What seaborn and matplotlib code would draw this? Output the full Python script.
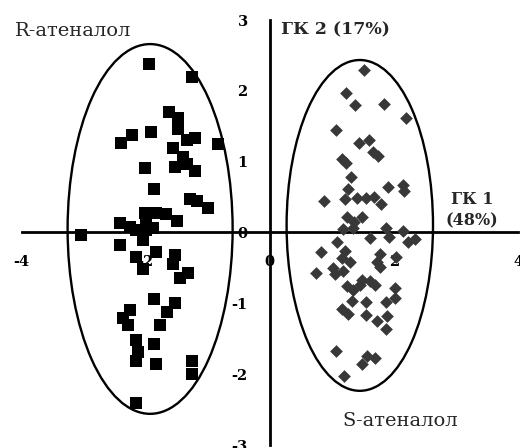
import numpy as np
import pandas as pd
import matplotlib
matplotlib.use("Agg")
import matplotlib.pyplot as plt
from matplotlib.patches import Ellipse
import seaborn as sns

# Principal-component scores, R-enantiomer samples
r_pc1 = [-1.95, -1.25, -1.63, -1.48, -1.48, -1.92, -2.23, -2.40, -1.20, -1.33,
         -0.83, -1.56, -1.40, -1.53, -1.33, -1.21, -2.02, -1.87, -1.28, -1.18,
         -1.00, -2.02, -1.83, -1.67, -1.50, -2.42, -2.26, -1.99, -3.05, -2.42,
         -2.15, -1.99, -2.04, -1.88, -2.15, -1.83, -1.53, -1.56, -2.04, -1.32,
         -1.45, -1.87, -1.53, -1.66, -2.26, -2.37, -2.29, -1.77, -2.16, -1.87,
         -2.13, -2.15, -1.84, -1.25, -1.25, -2.16]
r_pc2 = [2.38, 2.19, 1.70, 1.61, 1.46, 1.42, 1.37, 1.26, 1.34, 1.30,
         1.25, 1.19, 1.06, 0.92, 0.96, 0.87, 0.91, 0.61, 0.47, 0.44,
         0.34, 0.27, 0.27, 0.26, 0.16, 0.13, 0.08, 0.13, -0.04, -0.18,
         0.04, 0.04, -0.11, 0.06, -0.34, -0.28, -0.32, -0.44, -0.51, -0.57,
         -0.64, -0.94, -0.99, -1.12, -1.09, -1.20, -1.30, -1.30, -1.52, -1.58,
         -1.69, -1.81, -1.85, -1.81, -2.00, -2.41]

# Principal-component scores, S-enantiomer samples
s_pc1 = [1.51, 1.23, 1.38, 1.84, 2.20, 1.06, 1.44, 1.60, 1.67, 1.74,
         1.16, 1.23, 1.31, 1.26, 1.91, 2.15, 2.16, 0.88, 1.21, 1.41,
         1.55, 1.68, 1.79, 1.24, 1.48, 1.35, 1.18, 1.88, 2.15, 1.34,
         1.62, 1.92, 2.23, 2.34, 1.08, 0.82, 1.21, 1.16, 1.29, 1.77,
         2.04, 1.72, 1.77, 0.75, 1.02, 1.05, 1.18, 1.24, 1.34, 1.48,
         1.61, 1.69, 1.45, 2.02, 1.33, 1.55, 1.87, 2.02, 1.16, 1.26,
         1.55, 1.72, 1.89, 1.87, 1.06, 1.56, 1.69, 1.48, 1.19]
s_pc2 = [2.30, 1.97, 1.80, 1.81, 1.61, 1.44, 1.27, 1.30, 1.14, 1.08,
         1.04, 0.98, 0.78, 0.62, 0.64, 0.67, 0.58, 0.44, 0.47, 0.49,
         0.49, 0.50, 0.40, 0.22, 0.22, 0.15, 0.05, 0.06, 0.02, 0.06,
         -0.08, -0.07, -0.13, -0.09, -0.14, -0.27, -0.26, -0.36, -0.41, -0.31,
         -0.34, -0.41, -0.48, -0.57, -0.50, -0.58, -0.54, -0.76, -0.81, -0.67,
         -0.69, -0.74, -0.74, -0.79, -0.97, -0.98, -0.98, -0.92, -1.08, -1.15,
         -1.17, -1.25, -1.18, -1.36, -1.67, -1.74, -1.77, -1.86, -2.02]

# Group ellipses: centre (pc1, pc2), full width, full height
ellipse_center_r = (-1.93, 0.05)
ellipse_size_r = (2.66, 5.22)
ellipse_center_s = (1.45, 0.10)
ellipse_size_s = (2.36, 4.67)

x_ticks = [-4, -2, 0, 2, 4]
y_ticks = [-3, -2, -1, 0, 1, 2, 3]

sns.set_style("white")
plt.rcParams["font.family"] = ["DejaVu Serif"]
plt.rcParams["axes.unicode_minus"] = False

df_r = pd.DataFrame({"pc1": r_pc1, "pc2": r_pc2})
df_s = pd.DataFrame({"pc1": s_pc1, "pc2": s_pc2})

fig = plt.figure(figsize=(5.2, 4.48), dpi=100)
ax = fig.add_axes([21.7 / 520, 3 / 448, 496.3 / 520, 425 / 448])

sns.scatterplot(data=df_r, x="pc1", y="pc2", marker="s", s=78, color="black",
                linewidth=0, ax=ax, zorder=3)
sns.scatterplot(data=df_s, x="pc1", y="pc2", marker="D", s=42, color="#383838",
                linewidth=0, ax=ax, zorder=3)

for c, (w, h) in ((ellipse_center_r, ellipse_size_r), (ellipse_center_s, ellipse_size_s)):
    ax.add_patch(Ellipse(c, w, h, fill=False, edgecolor="black", linewidth=1.7, zorder=4))

ax.set_xlim(-4, 4)
ax.set_ylim(-3, 3)
ax.set_xticks(x_ticks)
ax.set_yticks(y_ticks)
ax.set_xticklabels([str(v) for v in x_ticks])
ax.set_yticklabels([str(v) for v in y_ticks])
ax.set_xlabel("")
ax.set_ylabel("")
ax.set_axisbelow(True)

for side in ("top", "right"):
    ax.spines[side].set_visible(False)
for side in ("left", "bottom"):
    ax.spines[side].set_position(("data", 0))
    ax.spines[side].set_linewidth(2.0)
    ax.spines[side].set_color("black")
    ax.spines[side].set_zorder(2)

ax.tick_params(axis="x", direction="out", length=3.5, width=1.8, pad=13,
               labelsize=10.5, colors="black")
ax.tick_params(axis="y", direction="out", length=2.5, width=1.8, pad=13.5,
               labelsize=10.5, colors="black")
for lab in ax.get_xticklabels() + ax.get_yticklabels():
    lab.set_fontweight("bold")

fig.text(281 / 520, 1 - 29.5 / 448, "ГК 2 (17%)", fontsize=12.5, fontweight="bold",
         ha="left", va="center")
fig.text(472 / 520, 1 - 210 / 448, "ГК 1\n(48%)", fontsize=11.5, fontweight="bold",
         ha="center", va="center", multialignment="center", linespacing=1.3)
fig.text(15 / 520, 1 - 31.5 / 448, "R-атеналол", fontsize=14, ha="left", va="center")
fig.text(342 / 520, 1 - 421 / 448, "S-атеналол", fontsize=14, ha="left", va="center")

fig.savefig("out.png", dpi=100)
